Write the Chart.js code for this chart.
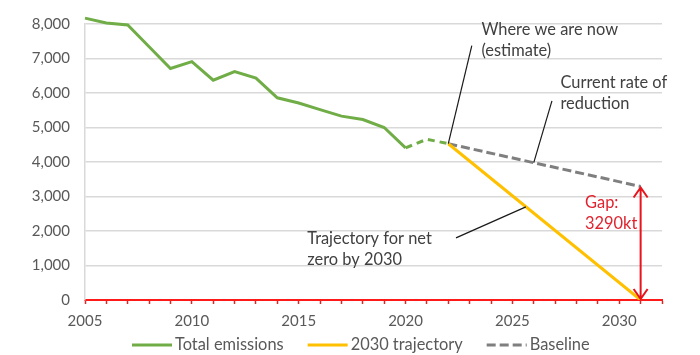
<!DOCTYPE html>
<html>
<head>
<meta charset="utf-8">
<script src="https://cdn.jsdelivr.net/npm/chart.js@4.4.1/dist/chart.umd.min.js"></script>
<style>
  html, body { margin: 0; padding: 0; background: #fff; }
  #wrap { width: 700px; height: 355px; }
</style>
</head>
<body>
<div id="wrap"><canvas id="chart" width="700" height="355"></canvas></div>
<script>
// Emissions (kt)
const years = [2005, 2006, 2007, 2008, 2009, 2010, 2011, 2012, 2013, 2014, 2015, 2016, 2017, 2018, 2019, 2020, 2021, 2022];
const totalEmissions = [8170, 8030, 7970, 7340, 6710, 6910, 6370, 6620, 6430, 5860, 5710, 5520, 5330, 5230, 5000, 4410, 4660, 4530];
const estimateFrom = 2020; // segments after this are dashed (estimate)

const trajectoryYears = [2022, 2031];
const trajectory = [4530, 0];

const baselineYears = [2022, 2031];
const baseline = [4530, 3290];

const gapValue = 3290;
const gapYear = 2031;

const xMin = 2005, xMax = 2032;
const yTicks = [0, 1000, 2000, 3000, 4000, 5000, 6000, 7000, 8000];

const FONT = 'Lato, "Open Sans", sans-serif';
const TEXT_SIZE = 16.4;

function toPoints(xs, ys) {
    return xs.map((x, i) => ({ x: x, y: ys[i] }));
}

// text notes and leader lines, placed in data units
const notes = [
    { lines: ['Where we are now', '(estimate)'], x: 2023.55, y: 7820, color: '#404040' },
    { lines: ['Current rate of', 'reduction'], x: 2027.25, y: 6290, color: '#404040' },
    { lines: ['Trajectory for net', 'zero by 2030'], x: 2015.4, y: 1770, color: '#404040' },
    { lines: ['Gap:', '3290kt'], x: 2028.4, y: 2810, color: '#e0242f' }
];
const leaders = [
    { from: [2022, 4530], to: [2023.1, 7370] },
    { from: [2026, 3980], to: [2026.85, 5770] },
    { from: [2022.36, 1800], to: [2025.63, 2700] }
];

const notesPlugin = {
    id: 'notes',
    afterDatasetsDraw(chart) {
        const ctx = chart.ctx;
        const xs = chart.scales.x, ys = chart.scales.y;
        ctx.save();
        // leader lines
        ctx.strokeStyle = '#1a1a1a';
        ctx.lineWidth = 1.2;
        leaders.forEach(l => {
            ctx.beginPath();
            ctx.moveTo(xs.getPixelForValue(l.from[0]), ys.getPixelForValue(l.from[1]));
            ctx.lineTo(xs.getPixelForValue(l.to[0]), ys.getPixelForValue(l.to[1]));
            ctx.stroke();
        });
        // gap arrow
        const ax = xs.getPixelForValue(gapYear);
        const ay0 = ys.getPixelForValue(0);
        const ay1 = ys.getPixelForValue(gapValue);
        ctx.strokeStyle = '#e8141c';
        ctx.lineWidth = 2;
        ctx.beginPath();
        ctx.moveTo(ax, ay0 - 1);
        ctx.lineTo(ax, ay1 + 1);
        ctx.moveTo(ax - 7, ay1 + 11);
        ctx.lineTo(ax, ay1 + 1);
        ctx.lineTo(ax + 7, ay1 + 11);
        ctx.moveTo(ax - 7, ay0 - 11);
        ctx.lineTo(ax, ay0 - 1);
        ctx.lineTo(ax + 7, ay0 - 11);
        ctx.stroke();
        // texts
        ctx.font = TEXT_SIZE + 'px ' + FONT;
        ctx.textBaseline = 'middle';
        ctx.textAlign = 'left';
        notes.forEach(n => {
            ctx.fillStyle = n.color;
            const px = xs.getPixelForValue(n.x);
            const py = ys.getPixelForValue(n.y);
            n.lines.forEach((t, i) => ctx.fillText(t, px, py + i * 21));
        });
        ctx.restore();
    },
    afterDraw(chart) {
        // legend row under the axis, styled from the datasets
        const ctx = chart.ctx;
        ctx.save();
        ctx.font = TEXT_SIZE + 'px ' + FONT;
        ctx.textBaseline = 'middle';
        ctx.fillStyle = '#595959';
        let x = 132;
        const y = 345;
        chart.data.datasets.forEach(ds => {
            ctx.strokeStyle = ds.borderColor;
            ctx.lineWidth = 3;
            ctx.setLineDash(ds.borderDash || []);
            ctx.beginPath();
            ctx.moveTo(x, y);
            ctx.lineTo(x + 40, y);
            ctx.stroke();
            x += 43;
            ctx.fillText(ds.label, x, y);
            x += ctx.measureText(ds.label).width + 24;
        });
        ctx.restore();
    }
};

new Chart(document.getElementById('chart'), {
    type: 'line',
    data: {
        datasets: [
            {
                label: 'Total emissions',
                data: toPoints(years, totalEmissions),
                borderColor: '#70ad47',
                backgroundColor: '#70ad47',
                borderWidth: 3,
                pointRadius: 0,
                clip: false,
                segment: {
                    borderDash: c => c.p0.parsed.x >= estimateFrom ? [7, 5] : undefined
                }
            },
            {
                label: '2030 trajectory',
                data: toPoints(trajectoryYears, trajectory),
                borderColor: '#ffc000',
                backgroundColor: '#ffc000',
                borderWidth: 3,
                pointRadius: 0
            },
            {
                label: 'Baseline',
                data: toPoints(baselineYears, baseline),
                borderColor: '#7f7f7f',
                backgroundColor: '#7f7f7f',
                borderWidth: 3,
                borderDash: [9, 4],
                pointRadius: 0
            }
        ]
    },
    options: {
        responsive: false,
        animation: false,
        layout: { padding: { top: 20, right: 38, left: 0, bottom: 0 } },
        plugins: {
            legend: { display: false },
            tooltip: { enabled: false }
        },
        scales: {
            x: {
                type: 'linear',
                min: xMin,
                max: xMax,
                afterBuildTicks: s => {
                    s.ticks = [];
                    for (let v = xMin; v <= xMax; v++) s.ticks.push({ value: v });
                },
                afterFit: s => { s.height = 55; },
                ticks: {
                    autoSkip: false,
                    maxRotation: 0,
                    padding: 8,
                    color: '#595959',
                    font: { family: FONT, size: 15 },
                    callback: v => (v % 5 === 0 && v <= 2030) ? String(v) : ''
                },
                grid: {
                    drawOnChartArea: false,
                    drawTicks: true,
                    tickLength: 4,
                    tickColor: '#d42a2a',
                    tickWidth: 1.5
                },
                border: { display: true, color: '#ff1a1a', width: 2 }
            },
            y: {
                min: 0,
                max: 8000,
                afterBuildTicks: s => { s.ticks = yTicks.map(v => ({ value: v })); },
                afterFit: s => { s.width = 85; },
                ticks: {
                    padding: 15,
                    color: '#595959',
                    font: { family: FONT, size: 15 },
                    callback: v => v.toLocaleString('en-US')
                },
                grid: {
                    color: c => c.tick && c.tick.value === 0 ? 'rgba(0,0,0,0)' : '#d9d9d9',
                    lineWidth: 1.5,
                    drawTicks: false
                },
                border: { display: true, color: '#d9d9d9', width: 1.5 }
            }
        }
    },
    plugins: [notesPlugin]
});
</script>
</body>
</html>
